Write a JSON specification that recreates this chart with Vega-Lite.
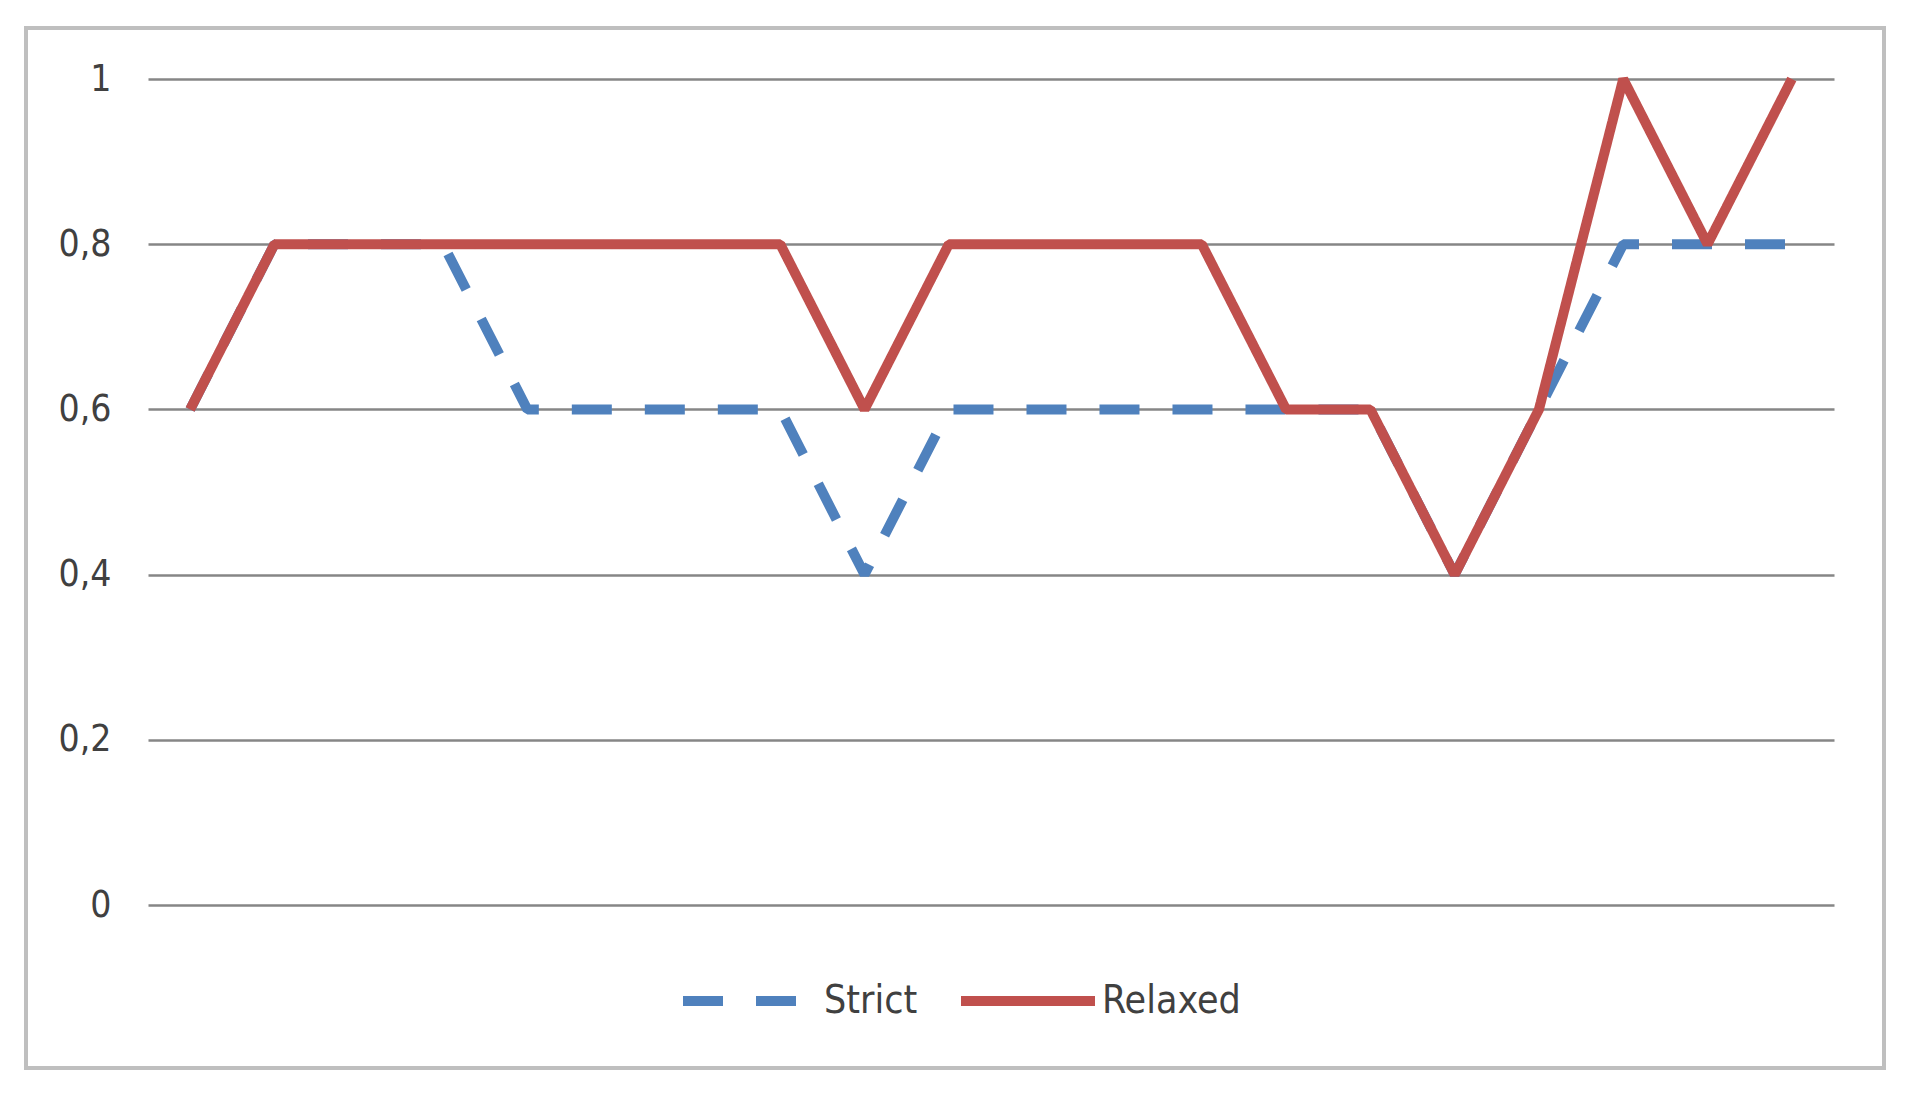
{
  "$schema": "https://vega.github.io/schema/vega-lite/v6.json",
  "autosize": "none",
  "width": 1858,
  "height": 1040,
  "padding": {"left": 26, "top": 28, "right": 38, "bottom": 35},
  "background": "white",
  "config": {
    "view": {"stroke": "#bfbfbf", "strokeWidth": 4},
    "font": "Liberation Sans Narrow, Arial Narrow, DejaVu Sans Condensed, sans-serif"
  },
  "data": {
    "values": [
      {"i": 1, "series": "Strict", "v": 0.6},
      {"i": 2, "series": "Strict", "v": 0.8},
      {"i": 3, "series": "Strict", "v": 0.8},
      {"i": 4, "series": "Strict", "v": 0.8},
      {"i": 5, "series": "Strict", "v": 0.6},
      {"i": 6, "series": "Strict", "v": 0.6},
      {"i": 7, "series": "Strict", "v": 0.6},
      {"i": 8, "series": "Strict", "v": 0.6},
      {"i": 9, "series": "Strict", "v": 0.4},
      {"i": 10, "series": "Strict", "v": 0.6},
      {"i": 11, "series": "Strict", "v": 0.6},
      {"i": 12, "series": "Strict", "v": 0.6},
      {"i": 13, "series": "Strict", "v": 0.6},
      {"i": 14, "series": "Strict", "v": 0.6},
      {"i": 15, "series": "Strict", "v": 0.6},
      {"i": 16, "series": "Strict", "v": 0.4},
      {"i": 17, "series": "Strict", "v": 0.6},
      {"i": 18, "series": "Strict", "v": 0.8},
      {"i": 19, "series": "Strict", "v": 0.8},
      {"i": 20, "series": "Strict", "v": 0.8},
      {"i": 1, "series": "Relaxed", "v": 0.6},
      {"i": 2, "series": "Relaxed", "v": 0.8},
      {"i": 3, "series": "Relaxed", "v": 0.8},
      {"i": 4, "series": "Relaxed", "v": 0.8},
      {"i": 5, "series": "Relaxed", "v": 0.8},
      {"i": 6, "series": "Relaxed", "v": 0.8},
      {"i": 7, "series": "Relaxed", "v": 0.8},
      {"i": 8, "series": "Relaxed", "v": 0.8},
      {"i": 9, "series": "Relaxed", "v": 0.6},
      {"i": 10, "series": "Relaxed", "v": 0.8},
      {"i": 11, "series": "Relaxed", "v": 0.8},
      {"i": 12, "series": "Relaxed", "v": 0.8},
      {"i": 13, "series": "Relaxed", "v": 0.8},
      {"i": 14, "series": "Relaxed", "v": 0.6},
      {"i": 15, "series": "Relaxed", "v": 0.6},
      {"i": 16, "series": "Relaxed", "v": 0.4},
      {"i": 17, "series": "Relaxed", "v": 0.6},
      {"i": 18, "series": "Relaxed", "v": 1},
      {"i": 19, "series": "Relaxed", "v": 0.8},
      {"i": 20, "series": "Relaxed", "v": 1}
    ]
  },
  "encoding": {
    "x": {
      "field": "i",
      "type": "ordinal",
      "axis": null,
      "scale": {"type": "point", "range": [122, 1808], "padding": 0.5}
    },
    "y": {
      "field": "v",
      "type": "quantitative",
      "scale": {"domain": [0, 1], "range": [877, 51], "nice": false},
      "axis": {
        "title": null,
        "values": [0, 0.2, 0.4, 0.6, 0.8, 1],
        "labelExpr": "replace(format(datum.value, '~g'), '.', ',')",
        "domain": false,
        "ticks": false,
        "offset": -122,
        "labelPadding": 37,
        "labelFontSize": 37,
        "labelColor": "#404040",
        "grid": true,
        "gridColor": "#868686",
        "gridWidth": 2.5
      }
    },
    "color": {
      "field": "series",
      "type": "nominal",
      "scale": {"domain": ["Strict", "Relaxed"], "range": ["#4f81bd", "#c0504d"]},
      "legend": {
        "title": null,
        "orient": "none",
        "direction": "horizontal",
        "legendX": 652,
        "legendY": 901,
        "symbolType": "stroke",
        "symbolSize": 17956,
        "symbolStrokeWidth": 10,
        "labelFontSize": 39,
        "labelColor": "#404040",
        "labelOffset": 2,
        "columnPadding": 23,
        "padding": 0
      }
    },
    "strokeDash": {
      "field": "series",
      "type": "nominal",
      "scale": {"domain": ["Strict", "Relaxed"], "range": [[40, 33], [1, 0]]},
      "legend": {
        "title": null,
        "orient": "none",
        "direction": "horizontal",
        "legendX": 652,
        "legendY": 901,
        "symbolType": "stroke",
        "symbolSize": 17956,
        "symbolStrokeWidth": 10,
        "labelFontSize": 39,
        "labelColor": "#404040",
        "labelOffset": 2,
        "columnPadding": 23,
        "padding": 0
      }
    }
  },
  "layer": [
    {
      "transform": [{"filter": "datum.series === 'Strict'"}],
      "mark": {"type": "line", "strokeWidth": 10, "strokeJoin": "bevel", "strokeCap": "butt"}
    },
    {
      "transform": [{"filter": "datum.series === 'Relaxed'"}],
      "mark": {"type": "line", "strokeWidth": 10, "strokeJoin": "bevel", "strokeCap": "butt"}
    }
  ]
}
